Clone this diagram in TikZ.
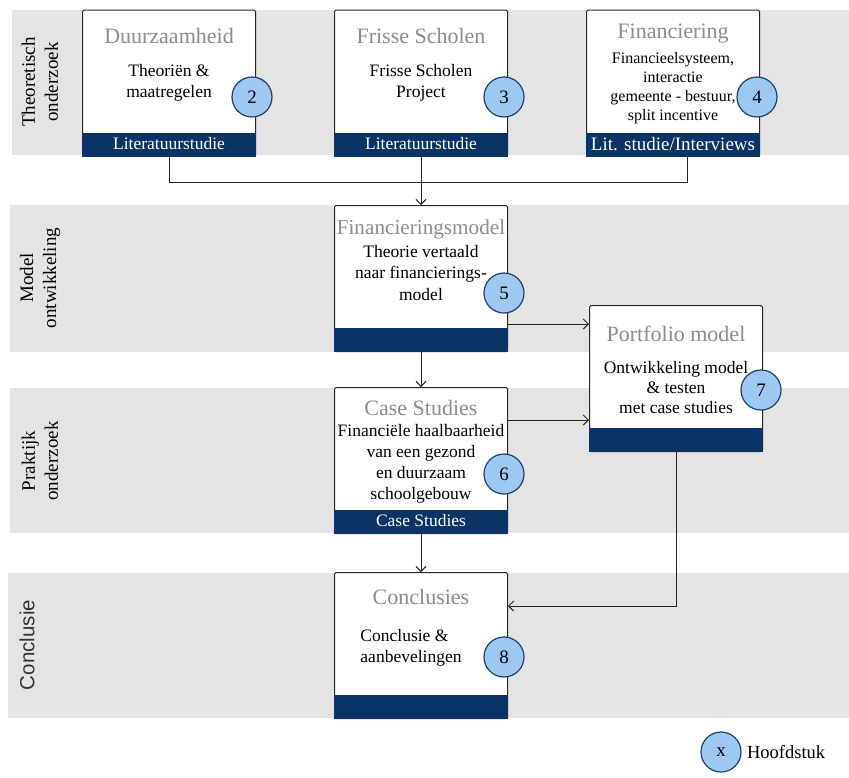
\documentclass[tikz,border=0pt]{standalone}
\usepackage{fontspec}
\setmainfont{Liberation Serif}
\newfontfamily\sansfont{Liberation Sans}
\usetikzlibrary{arrows.meta}

\definecolor{bandgrijs}{HTML}{E4E4E4}
\definecolor{donkerblauw}{HTML}{0B3466}
\definecolor{lichtblauw}{HTML}{9DC8F2}
\definecolor{randblauw}{HTML}{1F3F6E}
\definecolor{titelgrijs}{HTML}{8C8C8C}

\begin{document}
\begin{tikzpicture}[x=1pt, y=-1pt,
    band/.style={fill=bandgrijs},
    kader/.style={draw=black!85, fill=white, line width=1pt, rounded corners=1.5pt,
      minimum width=173pt, minimum height=146pt, inner sep=0pt},
    strook/.style={fill=donkerblauw},
    titel/.style={text=titelgrijs, font=\fontsize{22}{24}\selectfont},
    inhoud/.style={align=center, font=\fontsize{17.5}{21.5}\selectfont},
    strooktekst/.style={text=white, font=\fontsize{17.5}{18}\selectfont},
    hfst/.style={circle, draw=randblauw, fill=lichtblauw, line width=1.2pt,
      minimum size=40pt, inner sep=0pt, font=\fontsize{19}{19}\selectfont},
    fase/.style={rotate=90, align=center, font=\fontsize{19}{23}\selectfont},
    lijn/.style={line width=1pt, black!85},
    pijl/.style={lijn, -{Straight Barb[length=5pt, width=10pt]}}]

    \useasboundingbox (0,0) rectangle (849,777);

    % Grey bands for the four phases
    \fill[band] (12,10) rectangle (849,155);
    \fill[band] (10,205) rectangle (849,352);
    \fill[band] (10,388) rectangle (849,533);
    \fill[band] (8,573) rectangle (849,718);

    % Phase labels
    \node[fase] (theo) at (40,82) {Theoretisch\\onderzoek};
    \node[fase] (mod) at (40,278) {Model\\ontwikkeling};
    \node[fase] (prak) at (40,461) {Praktijk\\onderzoek};
    \node[fase, font=\sansfont\fontsize{20.5}{22}\selectfont, text=black!80] (conc) at (27,645) {Conclusie};

    % Top row: theory boxes
    \node[kader] (duur) at (169,83) {};
    \fill[strook] (duur.south west) rectangle ([yshift=24pt]duur.south east);
    \node[titel] (duur-t) at (169,36) {Duurzaamheid};
    \node[inhoud] (duur-b) at (169,83) {Theori\"en \&\\maatregelen};
    \node[strooktekst] (duur-s) at (169,144) {Literatuurstudie};
    \node[hfst] (h2) at (252,97) {2};

    \node[kader] (fris) at (421,83) {};
    \fill[strook] (fris.south west) rectangle ([yshift=24pt]fris.south east);
    \node[titel] (fris-t) at (421,36) {Frisse Scholen};
    \node[inhoud] (fris-b) at (421,83) {Frisse Scholen\\Project};
    \node[strooktekst] (fris-s) at (421,144) {Literatuurstudie};
    \node[hfst] (h3) at (504,97) {3};

    \node[kader] (fin) at (673,83) {};
    \fill[strook] (fin.south west) rectangle ([yshift=24pt]fin.south east);
    \node[titel] (fin-t) at (673,34) {Financiering};
    \node[inhoud, font=\fontsize{16}{19}\selectfont] (fin-b) at (673,88)
      {Financieelsysteem,\\interactie\\gemeente - bestuur,\\split incentive};
    \node[strooktekst, font=\fontsize{19}{19}\selectfont] (fin-s) at (673,144) {Lit. studie/Interviews};
    \node[hfst] (h4) at (757,97) {4};

    % Model development
    \node[kader] (finmod) at (421,278.5) {};
    \fill[strook] (finmod.south west) rectangle ([yshift=24pt]finmod.south east);
    \node[titel, font=\fontsize{21.2}{24}\selectfont] (finmod-t) at (421,229) {Financieringsmodel};
    \node[inhoud] (finmod-b) at (421,273) {Theorie vertaald\\naar financierings-\\model};
    \node[hfst] (h5) at (504,293) {5};

    \node[kader] (port) at (676,378.5) {};
    \fill[strook] (port.south west) rectangle ([yshift=24pt]port.south east);
    \node[titel] (port-t) at (676,334) {Portfolio model};
    \node[inhoud, font=\fontsize{17.5}{20}\selectfont] (port-b) at (676,388) {Ontwikkeling model\\\& testen\\met case studies};
    \node[hfst] (h7) at (761,390) {7};

    % Practical research
    \node[kader] (case) at (421,460.5) {};
    \fill[strook] (case.south west) rectangle ([yshift=24pt]case.south east);
    \node[titel] (case-t) at (421,408) {Case Studies};
    \node[inhoud, font=\fontsize{17.5}{21}\selectfont] (case-b) at (421,464) {Financi\"ele haalbaarheid\\van een gezond\\en duurzaam\\schoolgebouw};
    \node[strooktekst] (case-s) at (421,521) {Case Studies};
    \node[hfst] (h6) at (504,474) {6};

    % Conclusion
    \node[kader] (concl) at (421,645.5) {};
    \fill[strook] (concl.south west) rectangle ([yshift=24pt]concl.south east);
    \node[titel] (concl-t) at (421,597) {Conclusies};
    \node[inhoud, align=left] (concl-b) at (411,648) {Conclusie \&\\aanbevelingen};
    \node[hfst] (h8) at (504,657) {8};

    % Connectors
    \coordinate (verz) at (421,182);
    \coordinate (p1) at (0,324);
    \coordinate (p2) at (0,420);
    \coordinate (p3) at (0,606);
    \draw[lijn] (duur.south) |- (verz);
    \draw[lijn] ([xshift=14pt]fin.south) |- (verz);
    \draw[pijl] (fris.south) -- (finmod.north);
    \draw[pijl] (finmod.east |- p1) -- (port.west |- p1);
    \draw[pijl] (finmod.south) -- (case.north);
    \draw[pijl] (case.east |- p2) -- (port.west |- p2);
    \draw[pijl] (case.south) -- (concl.north);
    \draw[pijl] (port.south) |- (concl.east |- p3);

    % Legend
    \node[hfst] (leg) at (721,752) {x};
    \node[inhoud, font=\fontsize{18.5}{20}\selectfont, anchor=west] (leg-t) at ([xshift=2pt]leg.east) {Hoofdstuk};

\end{tikzpicture}
\end{document}
